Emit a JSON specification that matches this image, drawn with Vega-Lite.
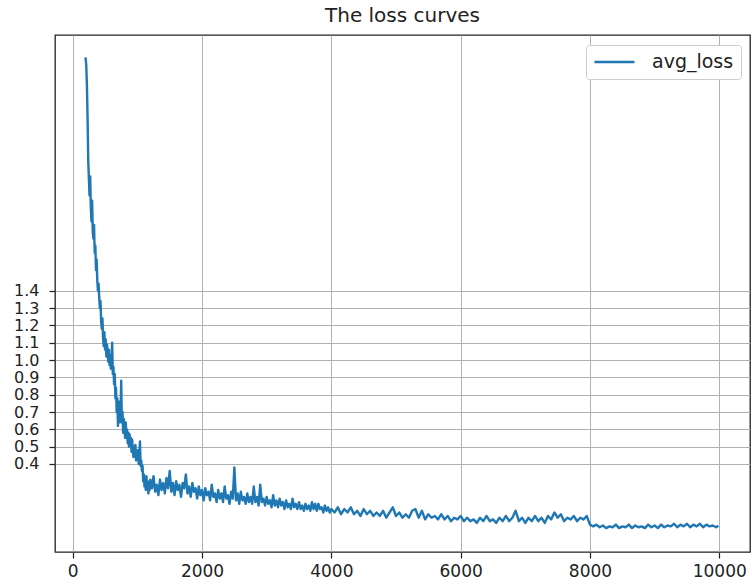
{
  "$schema": "https://vega.github.io/schema/vega-lite/v6.json",
  "width": 695,
  "height": 517,
  "autosize": {"type": "none"},
  "padding": {"left": 55, "top": 35, "right": 2, "bottom": 36},
  "background": "white",
  "title": {"text": "The loss curves", "font": "DejaVu Sans", "fontSize": 20, "fontWeight": "normal", "color": "#222", "anchor": "middle", "offset": 9},
  "config": {
    "view": {"stroke": "#222", "strokeWidth": 1.3},
    "axis": {"labelFont": "DejaVu Sans", "labelFontSize": 17, "labelColor": "#222", "domain": false, "tickColor": "#222", "tickSize": 6, "tickWidth": 1.2, "gridColor": "#b0b0b0", "gridWidth": 1, "title": null}
  },
  "data": {"values": [
    {"iter": 200, "avg_loss": 2.74}, {"iter": 210, "avg_loss": 2.70}, {"iter": 220, "avg_loss": 2.58}, {"iter": 230, "avg_loss": 2.40},
    {"iter": 240, "avg_loss": 2.15}, {"iter": 250, "avg_loss": 2.05}, {"iter": 260, "avg_loss": 1.95}, {"iter": 270, "avg_loss": 2.06},
    {"iter": 280, "avg_loss": 1.88}, {"iter": 290, "avg_loss": 1.80}, {"iter": 300, "avg_loss": 1.92}, {"iter": 310, "avg_loss": 1.74},
    {"iter": 320, "avg_loss": 1.70}, {"iter": 330, "avg_loss": 1.78}, {"iter": 340, "avg_loss": 1.62}, {"iter": 350, "avg_loss": 1.66},
    {"iter": 360, "avg_loss": 1.52}, {"iter": 370, "avg_loss": 1.58}, {"iter": 380, "avg_loss": 1.46}, {"iter": 390, "avg_loss": 1.40},
    {"iter": 400, "avg_loss": 1.44}, {"iter": 410, "avg_loss": 1.36}, {"iter": 420, "avg_loss": 1.30}, {"iter": 430, "avg_loss": 1.34},
    {"iter": 440, "avg_loss": 1.22}, {"iter": 450, "avg_loss": 1.18}, {"iter": 460, "avg_loss": 1.24}, {"iter": 470, "avg_loss": 1.12},
    {"iter": 480, "avg_loss": 1.08}, {"iter": 490, "avg_loss": 1.16}, {"iter": 500, "avg_loss": 1.06}, {"iter": 510, "avg_loss": 1.12},
    {"iter": 520, "avg_loss": 1.02}, {"iter": 530, "avg_loss": 1.09}, {"iter": 540, "avg_loss": 1.04}, {"iter": 550, "avg_loss": 0.99},
    {"iter": 560, "avg_loss": 1.06}, {"iter": 570, "avg_loss": 0.97}, {"iter": 580, "avg_loss": 1.03}, {"iter": 590, "avg_loss": 0.95},
    {"iter": 600, "avg_loss": 1.00}, {"iter": 610, "avg_loss": 1.10}, {"iter": 620, "avg_loss": 0.92}, {"iter": 630, "avg_loss": 0.96},
    {"iter": 640, "avg_loss": 0.86}, {"iter": 650, "avg_loss": 0.92}, {"iter": 660, "avg_loss": 0.78}, {"iter": 670, "avg_loss": 0.84},
    {"iter": 680, "avg_loss": 0.70}, {"iter": 690, "avg_loss": 0.78}, {"iter": 700, "avg_loss": 0.62}, {"iter": 710, "avg_loss": 0.70},
    {"iter": 720, "avg_loss": 0.76}, {"iter": 730, "avg_loss": 0.64}, {"iter": 740, "avg_loss": 0.70}, {"iter": 750, "avg_loss": 0.88},
    {"iter": 760, "avg_loss": 0.64}, {"iter": 770, "avg_loss": 0.70}, {"iter": 780, "avg_loss": 0.58}, {"iter": 790, "avg_loss": 0.66},
    {"iter": 800, "avg_loss": 0.62}, {"iter": 810, "avg_loss": 0.55}, {"iter": 820, "avg_loss": 0.64}, {"iter": 830, "avg_loss": 0.56},
    {"iter": 840, "avg_loss": 0.60}, {"iter": 850, "avg_loss": 0.52}, {"iter": 860, "avg_loss": 0.58}, {"iter": 870, "avg_loss": 0.50},
    {"iter": 880, "avg_loss": 0.57}, {"iter": 890, "avg_loss": 0.51}, {"iter": 900, "avg_loss": 0.55}, {"iter": 910, "avg_loss": 0.47},
    {"iter": 920, "avg_loss": 0.54}, {"iter": 930, "avg_loss": 0.48}, {"iter": 940, "avg_loss": 0.44}, {"iter": 950, "avg_loss": 0.50},
    {"iter": 960, "avg_loss": 0.45}, {"iter": 970, "avg_loss": 0.51}, {"iter": 980, "avg_loss": 0.42}, {"iter": 990, "avg_loss": 0.47},
    {"iter": 1000, "avg_loss": 0.43}, {"iter": 1010, "avg_loss": 0.48}, {"iter": 1020, "avg_loss": 0.40}, {"iter": 1030, "avg_loss": 0.45},
    {"iter": 1040, "avg_loss": 0.53}, {"iter": 1050, "avg_loss": 0.39}, {"iter": 1060, "avg_loss": 0.42}, {"iter": 1070, "avg_loss": 0.36},
    {"iter": 1080, "avg_loss": 0.39}, {"iter": 1090, "avg_loss": 0.30}, {"iter": 1100, "avg_loss": 0.34}, {"iter": 1110, "avg_loss": 0.27},
    {"iter": 1120, "avg_loss": 0.31}, {"iter": 1130, "avg_loss": 0.25}, {"iter": 1140, "avg_loss": 0.33}, {"iter": 1150, "avg_loss": 0.26},
    {"iter": 1160, "avg_loss": 0.30}, {"iter": 1170, "avg_loss": 0.23}, {"iter": 1180, "avg_loss": 0.28}, {"iter": 1190, "avg_loss": 0.25},
    {"iter": 1200, "avg_loss": 0.31}, {"iter": 1225, "avg_loss": 0.26}, {"iter": 1250, "avg_loss": 0.33}, {"iter": 1275, "avg_loss": 0.24},
    {"iter": 1300, "avg_loss": 0.28}, {"iter": 1325, "avg_loss": 0.22}, {"iter": 1350, "avg_loss": 0.31}, {"iter": 1375, "avg_loss": 0.25},
    {"iter": 1400, "avg_loss": 0.29}, {"iter": 1425, "avg_loss": 0.23}, {"iter": 1450, "avg_loss": 0.32}, {"iter": 1475, "avg_loss": 0.26},
    {"iter": 1500, "avg_loss": 0.36}, {"iter": 1525, "avg_loss": 0.24}, {"iter": 1550, "avg_loss": 0.29}, {"iter": 1575, "avg_loss": 0.22},
    {"iter": 1600, "avg_loss": 0.30}, {"iter": 1625, "avg_loss": 0.25}, {"iter": 1650, "avg_loss": 0.28}, {"iter": 1675, "avg_loss": 0.21},
    {"iter": 1700, "avg_loss": 0.29}, {"iter": 1725, "avg_loss": 0.26}, {"iter": 1750, "avg_loss": 0.34}, {"iter": 1775, "avg_loss": 0.23},
    {"iter": 1800, "avg_loss": 0.27}, {"iter": 1825, "avg_loss": 0.21}, {"iter": 1850, "avg_loss": 0.29}, {"iter": 1875, "avg_loss": 0.24},
    {"iter": 1900, "avg_loss": 0.26}, {"iter": 1925, "avg_loss": 0.20}, {"iter": 1950, "avg_loss": 0.27}, {"iter": 1975, "avg_loss": 0.22},
    {"iter": 2000, "avg_loss": 0.25}, {"iter": 2025, "avg_loss": 0.19}, {"iter": 2050, "avg_loss": 0.26}, {"iter": 2075, "avg_loss": 0.22},
    {"iter": 2100, "avg_loss": 0.24}, {"iter": 2125, "avg_loss": 0.19}, {"iter": 2150, "avg_loss": 0.28}, {"iter": 2175, "avg_loss": 0.21},
    {"iter": 2200, "avg_loss": 0.23}, {"iter": 2225, "avg_loss": 0.18}, {"iter": 2250, "avg_loss": 0.25}, {"iter": 2275, "avg_loss": 0.20},
    {"iter": 2300, "avg_loss": 0.23}, {"iter": 2325, "avg_loss": 0.18}, {"iter": 2350, "avg_loss": 0.27}, {"iter": 2375, "avg_loss": 0.20},
    {"iter": 2400, "avg_loss": 0.22}, {"iter": 2425, "avg_loss": 0.17}, {"iter": 2450, "avg_loss": 0.24}, {"iter": 2475, "avg_loss": 0.20},
    {"iter": 2500, "avg_loss": 0.38}, {"iter": 2525, "avg_loss": 0.19}, {"iter": 2550, "avg_loss": 0.23}, {"iter": 2575, "avg_loss": 0.17},
    {"iter": 2600, "avg_loss": 0.24}, {"iter": 2625, "avg_loss": 0.19}, {"iter": 2650, "avg_loss": 0.21}, {"iter": 2675, "avg_loss": 0.17},
    {"iter": 2700, "avg_loss": 0.23}, {"iter": 2725, "avg_loss": 0.18}, {"iter": 2750, "avg_loss": 0.21}, {"iter": 2775, "avg_loss": 0.17},
    {"iter": 2800, "avg_loss": 0.27}, {"iter": 2825, "avg_loss": 0.18}, {"iter": 2850, "avg_loss": 0.21}, {"iter": 2875, "avg_loss": 0.16},
    {"iter": 2900, "avg_loss": 0.28}, {"iter": 2925, "avg_loss": 0.18}, {"iter": 2950, "avg_loss": 0.20}, {"iter": 2975, "avg_loss": 0.16},
    {"iter": 3000, "avg_loss": 0.21}, {"iter": 3025, "avg_loss": 0.17}, {"iter": 3050, "avg_loss": 0.19}, {"iter": 3075, "avg_loss": 0.15},
    {"iter": 3100, "avg_loss": 0.22}, {"iter": 3125, "avg_loss": 0.16}, {"iter": 3150, "avg_loss": 0.19}, {"iter": 3175, "avg_loss": 0.15},
    {"iter": 3200, "avg_loss": 0.20}, {"iter": 3225, "avg_loss": 0.16}, {"iter": 3250, "avg_loss": 0.18}, {"iter": 3275, "avg_loss": 0.14},
    {"iter": 3300, "avg_loss": 0.19}, {"iter": 3325, "avg_loss": 0.15}, {"iter": 3350, "avg_loss": 0.17}, {"iter": 3375, "avg_loss": 0.14},
    {"iter": 3400, "avg_loss": 0.20}, {"iter": 3425, "avg_loss": 0.15}, {"iter": 3450, "avg_loss": 0.17}, {"iter": 3475, "avg_loss": 0.14},
    {"iter": 3500, "avg_loss": 0.18}, {"iter": 3525, "avg_loss": 0.14}, {"iter": 3550, "avg_loss": 0.16}, {"iter": 3575, "avg_loss": 0.13},
    {"iter": 3600, "avg_loss": 0.17}, {"iter": 3625, "avg_loss": 0.14}, {"iter": 3650, "avg_loss": 0.16}, {"iter": 3675, "avg_loss": 0.13},
    {"iter": 3700, "avg_loss": 0.18}, {"iter": 3725, "avg_loss": 0.14}, {"iter": 3750, "avg_loss": 0.17}, {"iter": 3775, "avg_loss": 0.13},
    {"iter": 3800, "avg_loss": 0.17}, {"iter": 3825, "avg_loss": 0.14}, {"iter": 3850, "avg_loss": 0.15}, {"iter": 3875, "avg_loss": 0.12},
    {"iter": 3900, "avg_loss": 0.16}, {"iter": 3925, "avg_loss": 0.13}, {"iter": 3950, "avg_loss": 0.15}, {"iter": 3975, "avg_loss": 0.12},
    {"iter": 4000, "avg_loss": 0.14},
    {"iter": 4050, "avg_loss": 0.12}, {"iter": 4100, "avg_loss": 0.15}, {"iter": 4150, "avg_loss": 0.11}, {"iter": 4200, "avg_loss": 0.14},
    {"iter": 4250, "avg_loss": 0.12}, {"iter": 4300, "avg_loss": 0.15}, {"iter": 4350, "avg_loss": 0.11}, {"iter": 4400, "avg_loss": 0.13},
    {"iter": 4450, "avg_loss": 0.10}, {"iter": 4500, "avg_loss": 0.14}, {"iter": 4550, "avg_loss": 0.11}, {"iter": 4600, "avg_loss": 0.13},
    {"iter": 4650, "avg_loss": 0.10}, {"iter": 4700, "avg_loss": 0.12}, {"iter": 4750, "avg_loss": 0.10}, {"iter": 4800, "avg_loss": 0.13},
    {"iter": 4850, "avg_loss": 0.09}, {"iter": 4900, "avg_loss": 0.12}, {"iter": 4950, "avg_loss": 0.15}, {"iter": 5000, "avg_loss": 0.10},
    {"iter": 5050, "avg_loss": 0.12}, {"iter": 5100, "avg_loss": 0.09}, {"iter": 5150, "avg_loss": 0.11}, {"iter": 5200, "avg_loss": 0.09},
    {"iter": 5250, "avg_loss": 0.13}, {"iter": 5300, "avg_loss": 0.14}, {"iter": 5350, "avg_loss": 0.09}, {"iter": 5400, "avg_loss": 0.13},
    {"iter": 5450, "avg_loss": 0.08}, {"iter": 5500, "avg_loss": 0.11}, {"iter": 5550, "avg_loss": 0.09}, {"iter": 5600, "avg_loss": 0.10},
    {"iter": 5650, "avg_loss": 0.08}, {"iter": 5700, "avg_loss": 0.11}, {"iter": 5750, "avg_loss": 0.08}, {"iter": 5800, "avg_loss": 0.10},
    {"iter": 5850, "avg_loss": 0.07}, {"iter": 5900, "avg_loss": 0.09}, {"iter": 5950, "avg_loss": 0.08}, {"iter": 6000, "avg_loss": 0.10},
    {"iter": 6050, "avg_loss": 0.07}, {"iter": 6100, "avg_loss": 0.09}, {"iter": 6150, "avg_loss": 0.07}, {"iter": 6200, "avg_loss": 0.08},
    {"iter": 6250, "avg_loss": 0.06}, {"iter": 6300, "avg_loss": 0.09}, {"iter": 6350, "avg_loss": 0.07}, {"iter": 6400, "avg_loss": 0.10},
    {"iter": 6450, "avg_loss": 0.07}, {"iter": 6500, "avg_loss": 0.08}, {"iter": 6550, "avg_loss": 0.06}, {"iter": 6600, "avg_loss": 0.09},
    {"iter": 6650, "avg_loss": 0.07}, {"iter": 6700, "avg_loss": 0.10}, {"iter": 6750, "avg_loss": 0.07}, {"iter": 6800, "avg_loss": 0.09},
    {"iter": 6850, "avg_loss": 0.13}, {"iter": 6900, "avg_loss": 0.07}, {"iter": 6950, "avg_loss": 0.09}, {"iter": 7000, "avg_loss": 0.06},
    {"iter": 7050, "avg_loss": 0.09}, {"iter": 7100, "avg_loss": 0.07}, {"iter": 7150, "avg_loss": 0.10}, {"iter": 7200, "avg_loss": 0.07},
    {"iter": 7250, "avg_loss": 0.09}, {"iter": 7300, "avg_loss": 0.06}, {"iter": 7350, "avg_loss": 0.10}, {"iter": 7400, "avg_loss": 0.08},
    {"iter": 7450, "avg_loss": 0.12}, {"iter": 7500, "avg_loss": 0.09}, {"iter": 7550, "avg_loss": 0.11}, {"iter": 7600, "avg_loss": 0.07},
    {"iter": 7650, "avg_loss": 0.09}, {"iter": 7700, "avg_loss": 0.08}, {"iter": 7750, "avg_loss": 0.10}, {"iter": 7800, "avg_loss": 0.07},
    {"iter": 7850, "avg_loss": 0.09}, {"iter": 7900, "avg_loss": 0.08}, {"iter": 7950, "avg_loss": 0.10}, {"iter": 8000, "avg_loss": 0.05},
    {"iter": 8050, "avg_loss": 0.04}, {"iter": 8100, "avg_loss": 0.05}, {"iter": 8150, "avg_loss": 0.035}, {"iter": 8200, "avg_loss": 0.045},
    {"iter": 8250, "avg_loss": 0.03}, {"iter": 8300, "avg_loss": 0.04}, {"iter": 8350, "avg_loss": 0.035}, {"iter": 8400, "avg_loss": 0.05},
    {"iter": 8450, "avg_loss": 0.03}, {"iter": 8500, "avg_loss": 0.04}, {"iter": 8550, "avg_loss": 0.035}, {"iter": 8600, "avg_loss": 0.05},
    {"iter": 8650, "avg_loss": 0.03}, {"iter": 8700, "avg_loss": 0.045}, {"iter": 8750, "avg_loss": 0.035}, {"iter": 8800, "avg_loss": 0.04},
    {"iter": 8850, "avg_loss": 0.03}, {"iter": 8900, "avg_loss": 0.05}, {"iter": 8950, "avg_loss": 0.035}, {"iter": 9000, "avg_loss": 0.045},
    {"iter": 9050, "avg_loss": 0.03}, {"iter": 9100, "avg_loss": 0.05}, {"iter": 9150, "avg_loss": 0.035}, {"iter": 9200, "avg_loss": 0.045},
    {"iter": 9250, "avg_loss": 0.04}, {"iter": 9300, "avg_loss": 0.055}, {"iter": 9350, "avg_loss": 0.035}, {"iter": 9400, "avg_loss": 0.05},
    {"iter": 9450, "avg_loss": 0.04}, {"iter": 9500, "avg_loss": 0.055}, {"iter": 9550, "avg_loss": 0.035}, {"iter": 9600, "avg_loss": 0.05},
    {"iter": 9650, "avg_loss": 0.04}, {"iter": 9700, "avg_loss": 0.055}, {"iter": 9750, "avg_loss": 0.035}, {"iter": 9800, "avg_loss": 0.05},
    {"iter": 9850, "avg_loss": 0.04}, {"iter": 9900, "avg_loss": 0.045}, {"iter": 9950, "avg_loss": 0.035}, {"iter": 9970, "avg_loss": 0.04}
  ]},
  "mark": {"type": "line", "strokeWidth": 2.4, "strokeJoin": "round", "strokeCap": "square"},
  "encoding": {
    "x": {"field": "iter", "type": "quantitative", "scale": {"domain": [-274, 10475], "nice": false, "zero": false},
      "axis": {"values": [0, 2000, 4000, 6000, 8000, 10000], "format": "d", "labelPadding": 5, "grid": true}},
    "y": {"field": "avg_loss", "type": "quantitative", "scale": {"domain": [-0.108, 2.876], "nice": false, "zero": false},
      "axis": {"values": [0.4, 0.5, 0.6, 0.7, 0.8, 0.9, 1.0, 1.1, 1.2, 1.3, 1.4], "format": ".1f", "labelFontSize": 16, "labelPadding": 10, "grid": true, "labelOverlap": false, "labelBound": false}},
    "color": {"datum": "avg_loss", "type": "nominal", "scale": {"range": ["#1f77b4"]},
      "legend": {"title": null, "orient": "none", "legendX": 531, "legendY": 10, "symbolType": "stroke", "symbolSize": 1600, "symbolStrokeWidth": 2.4, "clipHeight": 20, "labelFont": "DejaVu Sans", "labelFontSize": 19, "labelColor": "#222", "labelOffset": 16, "padding": 7, "strokeColor": "#cccccc", "fillColor": "white", "cornerRadius": 3}}
  }
}
